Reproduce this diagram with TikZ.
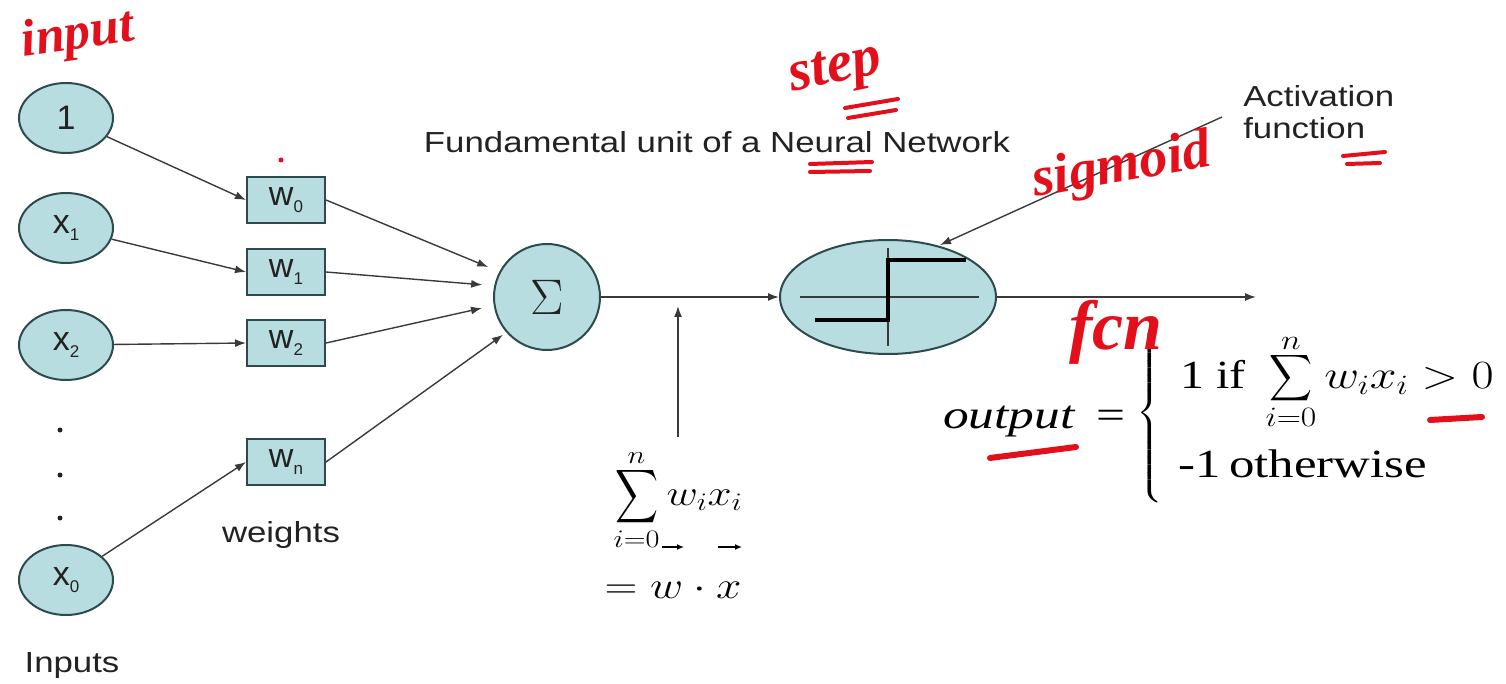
\RequirePackage{fix-cm}
\documentclass[tikz,border=0pt]{standalone}
\usepackage{amsmath}
\usepackage{graphicx}
\usepackage{fontspec}
\setmainfont{Liberation Serif}
\setsansfont{Liberation Sans}
\usetikzlibrary{arrows.meta,shapes.geometric}
\definecolor{nodefill}{HTML}{B7DDE0}
\definecolor{nodeedge}{HTML}{2E4A4C}
\definecolor{ink}{HTML}{E3101C}
\definecolor{linec}{HTML}{3A3A3A}
\definecolor{txt}{HTML}{222222}
\newcommand\lowsub[1]{\raisebox{-7pt}{\fontsize{17}{17}\selectfont #1}}
\newcommand\BigSum[2]{\mathop{\vcenter{\hbox{\scalebox{#1}[#2]{$\displaystyle\sum$}}}}\limits}
\newcommand\upperlim[2]{\raisebox{#1}[0pt][0pt]{$\scriptstyle #2$}}
\tikzset{
  inp/.style={ellipse, draw=nodeedge, fill=nodefill, line width=2pt, minimum width=94pt, minimum height=70pt, inner sep=0pt, text=txt, font=\sffamily\fontsize{34}{34}\selectfont},
  wbox/.style={rectangle, draw=nodeedge, fill=nodefill, line width=2pt, minimum width=78pt, minimum height=46pt, inner sep=0pt, text=txt, font=\sffamily\fontsize{34}{34}\selectfont},
  conn/.style={draw=linec, line width=1.4pt, -{Latex[length=11pt,width=8pt]}},
  lbl/.style={font=\sffamily\fontsize{29}{32}\selectfont, xscale=1.2, text=txt, inner sep=0pt, align=left},
  hand/.style={text=ink, font=\bfseries\itshape\fontsize{52}{52}\selectfont, inner sep=0pt},
  inkline/.style={draw=ink, line width=4pt, line cap=round},
  formula/.style={text=black, inner sep=0pt, xscale=1.2, font=\fontsize{40}{44}\selectfont},
}
\begin{document}
\begin{tikzpicture}[x=1pt,y=-1pt]
\useasboundingbox (0,0) rectangle (1506,684);

% input nodes
\node[inp] (i1) at (66,118) {1};
\node[inp] (i2) at (66,228) {x\lowsub{1}};
\node[inp] (i3) at (66,345) {x\lowsub{2}};
\node[inp] (i4) at (66,580) {x\lowsub{0}};
\foreach \yy/\nm in {430/d1,475/d2,518/d3}
  \fill[txt] (60,\yy) circle (2.5pt) coordinate (\nm);

% weight boxes
\node[wbox] (w0) at (286,200) {w\lowsub{0}};
\node[wbox] (w1) at (286,272) {w\lowsub{1}};
\node[wbox] (w2) at (286,343) {w\lowsub{2}};
\node[wbox] (wn) at (286,462) {w\lowsub{n}};

% summation and activation nodes
\node[circle, draw=nodeedge, fill=nodefill, line width=2pt, minimum size=106pt, inner sep=0pt, text=txt, font=\fontsize{50}{50}\selectfont] (sum) at (547,297) {$\Sigma$};
\node[ellipse, draw=nodeedge, fill=nodefill, line width=2pt, minimum width=216pt, minimum height=114pt, inner sep=0pt] (act) at (888,297) {};

% step function drawing inside activation node
\draw[linec, line width=2pt] (800,297) -- (979,297);
\draw[linec, line width=2pt] (888,248) -- (888,346);
\draw[black, line width=4.5pt] (815,320) -- (888,320) -- (888,260) -- (966,260);

% labels
\node[lbl] (title) at (717,142) {Fundamental unit of a Neural Network};
\node[lbl, anchor=west] (actlbl) at (1243,112) {Activation\\function};
\node[lbl] (wlbl) at (281,535) {weights};
\node[lbl] (ilbl) at (72,666) {Inputs};

% connectors inputs -> weights
\draw[conn] (i1) -- (w0.west);
\draw[conn] (i2) -- (w1.west);
\draw[conn] (i3) -- (w2.west);
\draw[conn] (i4) -- (wn.west);

% weights -> sum
\draw[conn, shorten >=12pt] (w0.east) -- (sum.152);
\draw[conn, shorten >=12pt] (w1.east) -- (sum.168);
\draw[conn, shorten >=12pt] (w2.east) -- (sum.189);
\draw[conn, shorten >=4pt] (wn.east) -- (sum.221);

% sum -> activation -> output
\coordinate (outend) at (1256,297);
\draw[conn] (sum) -- (act);
\draw[conn] (act) -- (outend);

% weighted sum formula
\node[formula, font=\fontsize{36}{40}\selectfont] (wsum) at (678,500) {$\BigSum{1.0}{1.5}_{i=0}^{\upperlim{-5pt}{n}} w_i x_i$};
\node[formula, font=\fontsize{38}{40}\selectfont] (wdot) at (673,590) {$= w\cdot x$};
\coordinate (wsumtop) at (678,437);
\coordinate (wsumtip) at (678,306);
\draw[conn] (wsumtop) -- (wsumtip);
\coordinate (va1) at (662,547); \coordinate (va2) at (684,547);
\coordinate (vb1) at (718,547); \coordinate (vb2) at (742,547);
\draw[black, line width=2pt, -{Latex[length=7pt,width=6pt]}] (va1) -- (va2);
\draw[black, line width=2pt, -{Latex[length=7pt,width=6pt]}] (vb1) -- (vb2);

% activation function pointer
\coordinate (actptr) at (1222,117);
\coordinate (acttip) at (940,245);
\draw[conn] (actptr) -- (acttip);

% output formula
\node[formula, anchor=base west, xscale=1.07] (outlbl) at (943,428) {\textit{output}\, =};
\node[formula, font=\fontsize{30}{30}\selectfont] (brace) at (1150,413) {$\left\{\vrule height 82pt depth 82pt width 0pt\right.$};
\node[formula, anchor=base west] (case1) at (1180,388) {1 if\, $\BigSum{1.0}{1.3}_{i=0}^{\upperlim{-24pt}{n}} w_i x_i > 0$};
\node[formula, anchor=base west, xscale=1.06] (case2) at (1178,477) {-1\,otherwise};

% handwritten annotations
\node[hand, rotate=8] (hinput) at (78,36) {input};
\fill[ink] (281,160) circle (2.5pt);
\node[hand, rotate=12, font=\bfseries\itshape\fontsize{58}{58}\selectfont] (hstep) at (836,72) {step};
\draw[inkline] (845,108) -- (898,99);
\draw[inkline] (848,118) -- (896,110);
\draw[inkline] (810,164) -- (872,162);
\draw[inkline] (810,172) -- (870,171);
\node[hand, rotate=10, font=\bfseries\itshape\fontsize{56}{56}\selectfont] (hsig) at (1122,168) {sigmoid};
\draw[inkline] (1343,156) -- (1385,152);
\draw[inkline] (1347,164) -- (1380,163);
\node[hand, font=\bfseries\itshape\fontsize{70}{70}\selectfont] (hfcn) at (1116,332) {fcn};
\draw[inkline, line width=6pt] (990,458) -- (1076,447);
\draw[inkline, line width=6pt] (1430,420) -- (1482,417);
\end{tikzpicture}
\end{document}
